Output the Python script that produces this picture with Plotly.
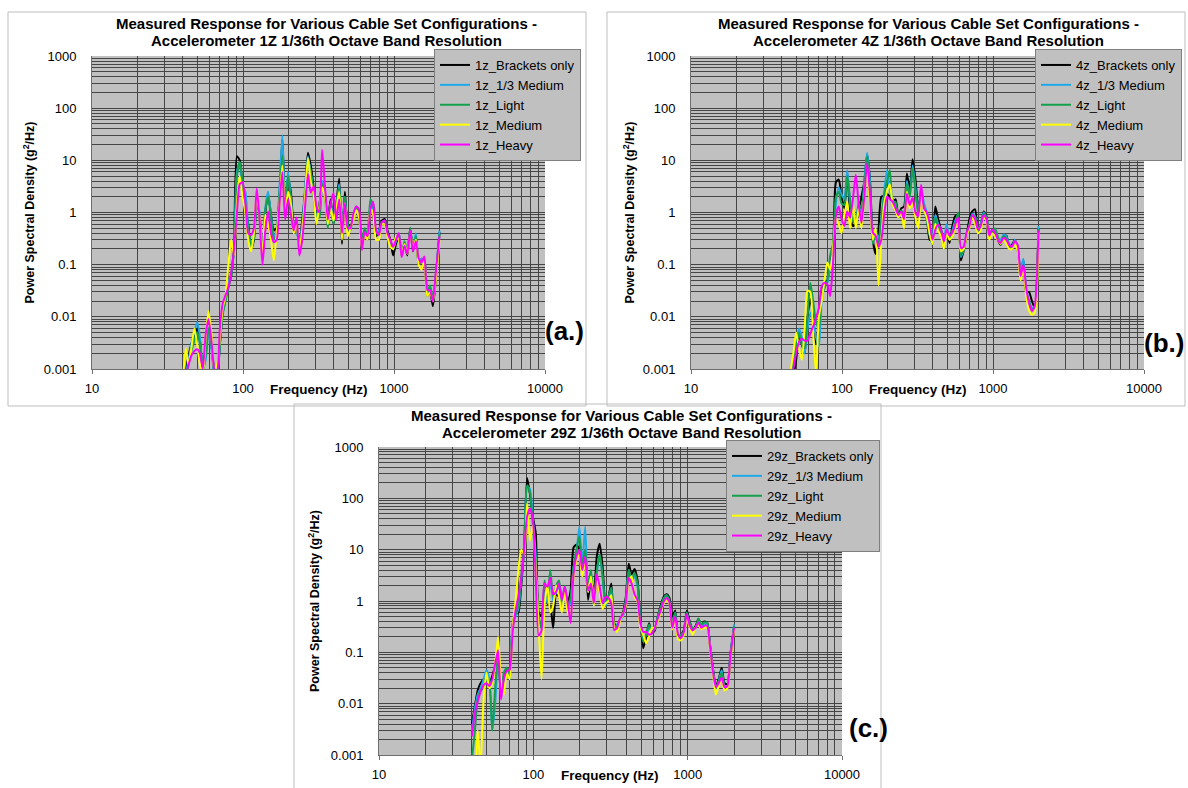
import plotly.graph_objects as go

W, H = 1188, 788

# 1/16-octave analysis frequencies (Hz), shared by every measurement
freq_hz = [
    40.0, 41.8, 43.6, 45.5, 47.6, 49.7, 51.9, 54.2, 56.6, 59.1,
    61.7, 64.4, 67.3, 70.3, 73.4, 76.6, 80.0, 83.5, 87.2, 91.1,
    95.1, 99.3, 103.7, 108.3, 113.1, 118.1, 123.4, 128.8, 134.5, 140.5,
    146.7, 153.2, 160.0, 167.1, 174.5, 182.2, 190.3, 198.7, 207.5, 216.7,
    226.3, 236.3, 246.8, 257.7, 269.1, 281.0, 293.5, 306.5, 320.0, 334.2,
    349.0, 364.5, 380.6, 397.5, 415.1, 433.4, 452.5, 472.7, 493.6, 515.4,
    538.2, 562.1, 587.0, 613.0, 640.0, 668.4, 698.0, 728.9, 761.1, 794.8,
    830.0, 866.8, 905.1, 945.2, 987.1, 1030.8, 1076.4, 1124.1, 1173.8, 1225.8,
    1280.0, 1336.7, 1395.9, 1457.7, 1522.2, 1589.6, 1660.0, 1733.5, 1810.2, 1890.4,
    2000.0,
]

config_names = ["Brackets only", "1/3 Medium", "Light", "Medium", "Heavy"]
config_colors = ["#000000", "#1fa9e8", "#14a04c", "#ffff00", "#ff00ff"]

# ---------------- Accelerometer 1Z (g^2/Hz) ----------------
psd_1z_brackets = [
    0.0005, 0.0009, 0.0018, 0.003, 0.0045, 0.006, 0.0035, 0.0009, 0.002, 0.006,
    0.003, 0.0009, 0.0006, 0.003, 0.012, 0.022, 0.04, 0.06, 0.25, 12.0,
    10.0, 3.0, 1.2, 0.6, 0.2, 0.3, 1.6, 0.9, 0.18, 1.0,
    2.3, 0.9, 0.45, 0.5, 2.0, 25.0, 1.4, 4.5, 2.5, 0.6,
    0.5, 0.25, 0.7, 2.5, 14.0, 8.0, 3.0, 0.9, 1.4, 3.5,
    2.2, 0.7, 1.8, 0.6, 1.4, 4.5, 0.25, 2.5, 0.6, 0.55,
    0.75, 1.1, 0.8, 0.3, 0.45, 0.3, 1.3, 0.9, 0.35, 0.45,
    0.7, 0.75, 0.45, 0.3, 0.15, 0.25, 0.35, 0.15, 0.25, 0.15,
    0.5, 0.18, 0.35, 0.1, 0.13, 0.12, 0.025, 0.03, 0.016, 0.05,
    0.42,
]
psd_1z_third_medium = [
    0.0004, 0.0008, 0.0015, 0.003, 0.005, 0.008, 0.004, 0.001, 0.0015, 0.005,
    0.0025, 0.0008, 0.0006, 0.0035, 0.014, 0.025, 0.045, 0.065, 0.22, 6.0,
    9.0, 3.2, 2.5, 0.5, 0.25, 0.35, 1.8, 1.0, 0.15, 1.2,
    2.5, 0.9, 0.35, 0.45, 3.0, 30.0, 1.2, 6.0, 2.0, 0.5,
    0.4, 0.3, 0.6, 3.0, 12.0, 6.0, 2.5, 0.8, 1.2, 4.0,
    2.5, 0.6, 1.5, 0.8, 1.2, 3.5, 0.4, 2.0, 0.55, 0.45,
    0.8, 1.2, 0.9, 0.25, 0.45, 0.32, 1.5, 1.0, 0.4, 0.45,
    0.65, 0.7, 0.4, 0.28, 0.2, 0.28, 0.4, 0.16, 0.25, 0.18,
    0.45, 0.2, 0.4, 0.12, 0.13, 0.12, 0.03, 0.035, 0.02, 0.06,
    0.45,
]
psd_1z_light = [
    0.0004, 0.0007, 0.0012, 0.0022, 0.0035, 0.005, 0.003, 0.0012, 0.0018, 0.006,
    0.003, 0.001, 0.0007, 0.003, 0.011, 0.02, 0.035, 0.06, 0.2, 5.0,
    9.5, 4.0, 1.5, 0.45, 0.22, 0.32, 2.0, 0.8, 0.14, 1.1,
    2.0, 0.8, 0.3, 0.4, 2.5, 12.0, 1.0, 5.0, 1.6, 0.45,
    0.45, 0.28, 0.55, 2.0, 9.0, 6.0, 2.0, 0.8, 0.8, 3.5,
    2.0, 0.5, 1.5, 0.6, 1.5, 3.0, 0.35, 2.0, 0.6, 0.5,
    0.8, 1.3, 0.9, 0.3, 0.5, 0.35, 1.8, 1.4, 0.4, 0.4,
    0.6, 0.65, 0.4, 0.3, 0.2, 0.3, 0.4, 0.15, 0.28, 0.17,
    0.5, 0.2, 0.35, 0.11, 0.12, 0.13, 0.03, 0.04, 0.022, 0.06,
    0.38,
]
psd_1z_medium = [
    0.0006, 0.0025, 0.0012, 0.0025, 0.006, 0.003, 0.0012, 0.0008, 0.004, 0.013,
    0.005, 0.001, 0.0012, 0.004, 0.015, 0.025, 0.1, 0.3, 0.15, 1.5,
    5.0, 2.0, 1.0, 0.3, 0.18, 0.4, 2.5, 0.8, 0.13, 0.9,
    0.6, 0.3, 0.12, 0.4, 1.5, 8.0, 0.9, 2.5, 1.5, 0.4,
    0.6, 0.2, 0.45, 2.0, 11.0, 4.0, 2.2, 0.6, 1.2, 3.0,
    2.0, 0.6, 1.2, 0.7, 1.2, 2.5, 0.3, 1.5, 0.35, 0.5,
    0.7, 1.1, 0.8, 0.2, 0.4, 0.3, 1.2, 0.9, 0.3, 0.3,
    0.6, 0.6, 0.35, 0.22, 0.2, 0.35, 0.3, 0.15, 0.25, 0.16,
    0.4, 0.2, 0.3, 0.1, 0.08, 0.12, 0.025, 0.03, 0.02, 0.05,
    0.3,
]
psd_1z_heavy = [
    0.0006, 0.0008, 0.0012, 0.0018, 0.0022, 0.0024, 0.002, 0.001, 0.0046, 0.009,
    0.0037, 0.001, 0.0007, 0.006, 0.018, 0.026, 0.037, 0.07, 0.2, 0.95,
    3.5, 3.8, 1.5, 0.4, 0.37, 0.5, 2.9, 0.73, 0.1, 0.45,
    1.05, 0.4, 0.27, 0.3, 1.5, 6.0, 0.73, 1.8, 0.95, 0.45,
    0.8, 0.15, 0.3, 1.3, 5.5, 2.4, 3.2, 1.3, 1.0, 16.0,
    3.2, 0.73, 1.5, 2.4, 0.73, 1.8, 0.4, 1.5, 0.5, 0.5,
    0.95, 1.3, 1.15, 0.19, 0.42, 0.35, 1.15, 1.6, 0.45, 0.37,
    0.65, 0.7, 0.4, 0.3, 0.22, 0.3, 0.4, 0.14, 0.23, 0.16,
    0.45, 0.18, 0.28, 0.13, 0.11, 0.144, 0.033, 0.032, 0.0197, 0.069,
    0.35,
]

# ---------------- Accelerometer 4Z (g^2/Hz) ----------------
psd_4z_brackets = [
    0.0002, 0.0003, 0.0005, 0.0008, 0.0008, 0.0015, 0.004, 0.003, 0.002, 0.01,
    0.022, 0.01, 0.003, 0.008, 0.03, 0.045, 0.05, 0.12, 0.2, 3.8,
    4.3, 2.0, 1.2, 6.0, 1.0, 0.55, 0.63, 1.0, 2.0, 3.8,
    13.0, 4.3, 0.3, 0.16, 0.47, 2.0, 2.1, 2.3, 2.0, 1.6,
    1.8, 0.85, 1.2, 1.3, 5.6, 2.7, 10.5, 4.3, 1.3, 2.0,
    1.3, 0.85, 0.3, 0.3, 1.3, 0.75, 0.47, 0.3, 0.45, 0.26,
    0.55, 0.85, 0.9, 0.12, 0.19, 0.36, 0.75, 1.05, 1.15, 0.41,
    0.55, 1.05, 0.85, 0.36, 0.41, 0.47, 0.3, 0.24, 0.36, 0.36,
    0.22, 0.24, 0.3, 0.19, 0.07, 0.12, 0.03, 0.03, 0.02, 0.015,
    0.5,
]
psd_4z_third_medium = [
    0.0002, 0.0003, 0.0004, 0.0007, 0.0012, 0.003, 0.006, 0.004, 0.002, 0.006,
    0.012, 0.008, 0.004, 0.0027, 0.02, 0.04, 0.045, 0.1, 0.15, 1.5,
    3.0, 2.2, 1.8, 6.5, 1.5, 0.8, 0.7, 1.3, 1.0, 4.0,
    14.0, 4.0, 0.3, 0.45, 0.3, 0.8, 2.5, 6.5, 2.5, 1.8,
    1.3, 0.9, 1.0, 1.0, 4.0, 2.0, 8.0, 3.0, 1.0, 3.0,
    1.5, 1.0, 0.5, 0.35, 0.9, 0.6, 0.45, 0.3, 0.6, 0.3,
    0.45, 0.7, 0.85, 0.14, 0.2, 0.4, 0.55, 0.95, 0.85, 0.45,
    0.6, 1.0, 0.8, 0.4, 0.45, 0.45, 0.32, 0.3, 0.38, 0.35,
    0.25, 0.22, 0.3, 0.2, 0.08, 0.13, 0.035, 0.02, 0.015, 0.016,
    0.55,
]
psd_4z_light = [
    0.0002, 0.0003, 0.0005, 0.0008, 0.0015, 0.0025, 0.005, 0.003, 0.0025, 0.01,
    0.045, 0.02, 0.008, 0.006, 0.025, 0.035, 0.05, 0.15, 0.25, 2.0,
    2.5, 1.5, 1.4, 5.0, 1.8, 0.7, 0.6, 1.5, 1.2, 3.0,
    12.0, 3.0, 0.25, 0.4, 0.25, 0.7, 2.2, 4.0, 6.5, 1.5,
    1.6, 0.8, 1.1, 0.9, 3.5, 2.0, 7.0, 2.5, 0.9, 2.5,
    1.2, 0.7, 0.35, 0.25, 0.8, 0.5, 0.4, 0.2, 0.45, 0.3,
    0.4, 0.6, 1.0, 0.15, 0.2, 0.35, 0.6, 0.9, 0.8, 0.5,
    0.5, 0.95, 0.8, 0.45, 0.4, 0.5, 0.35, 0.25, 0.35, 0.32,
    0.24, 0.2, 0.28, 0.22, 0.07, 0.1, 0.03, 0.02, 0.014, 0.015,
    0.48,
]
psd_4z_medium = [
    0.0002, 0.0003, 0.0006, 0.0009, 0.002, 0.005, 0.0025, 0.0015, 0.006, 0.032,
    0.03, 0.005, 0.0008, 0.01, 0.02, 0.05, 0.11, 0.08, 0.2, 0.8,
    0.6, 0.4, 0.9, 1.6, 0.5, 1.5, 0.5, 1.2, 0.5, 2.0,
    6.0, 1.5, 0.3, 0.5, 0.04, 0.3, 1.5, 2.5, 3.5, 1.4,
    1.1, 0.8, 1.0, 0.5, 2.5, 1.2, 1.5, 0.8, 0.5, 2.0,
    1.1, 0.8, 0.4, 0.25, 0.6, 0.45, 0.35, 0.2, 0.4, 0.3,
    0.35, 0.5, 0.7, 0.18, 0.2, 0.35, 0.5, 0.8, 0.6, 0.4,
    0.45, 0.8, 0.7, 0.3, 0.4, 0.35, 0.3, 0.25, 0.3, 0.25,
    0.2, 0.2, 0.25, 0.18, 0.05, 0.08, 0.025, 0.013, 0.011, 0.012,
    0.42,
]
psd_4z_heavy = [
    0.0002, 0.0003, 0.0004, 0.0006, 0.001, 0.002, 0.0033, 0.0038, 0.0035, 0.0035,
    0.0048, 0.0065, 0.0095, 0.015, 0.039, 0.045, 0.042, 0.025, 0.108, 0.85,
    1.3, 0.75, 0.55, 1.05, 0.8, 1.8, 5.3, 1.5, 0.63, 2.0,
    9.0, 2.3, 0.41, 0.36, 0.22, 0.3, 0.9, 2.0, 1.8, 1.6,
    1.2, 0.9, 1.05, 0.75, 2.3, 1.4, 1.9, 1.0, 0.85, 3.4,
    1.2, 1.0, 0.63, 0.3, 0.47, 0.58, 0.47, 0.28, 0.47, 0.36,
    0.41, 0.58, 0.8, 0.21, 0.22, 0.41, 0.55, 0.9, 0.75, 0.47,
    0.55, 0.9, 0.75, 0.36, 0.47, 0.41, 0.3, 0.26, 0.33, 0.3,
    0.24, 0.22, 0.28, 0.24, 0.06, 0.1, 0.035, 0.018, 0.013, 0.016,
    0.45,
]

# ---------------- Accelerometer 29Z (g^2/Hz) ----------------
psd_29z_brackets = [
    0.004, 0.009, 0.018, 0.025, 0.03, 0.032, 0.025, 0.035, 0.055, 0.075,
    0.02, 0.03, 0.05, 0.04, 0.35, 0.55, 0.6, 2.0, 12.0, 250.0,
    120.0, 44.0, 21.0, 0.6, 0.5, 1.6, 0.9, 0.8, 0.3, 1.35,
    1.2, 0.8, 1.6, 0.9, 1.6, 11.0, 12.5, 10.0, 4.0, 8.5,
    1.05, 2.8, 1.35, 7.4, 13.0, 4.7, 0.9, 1.2, 2.2, 0.37,
    0.3, 0.42, 0.58, 1.2, 5.3, 3.3, 4.2, 2.6, 0.42, 0.12,
    0.2, 0.37, 0.235, 0.27, 0.5, 0.8, 1.2, 1.35, 1.15, 0.5,
    0.65, 0.19, 0.22, 0.27, 0.65, 0.4, 0.28, 0.32, 0.45, 0.33,
    0.4, 0.38, 0.14, 0.05, 0.022, 0.03, 0.05, 0.025, 0.024, 0.09,
    0.32,
]
psd_29z_third_medium = [
    0.003, 0.008, 0.015, 0.02, 0.03, 0.045, 0.03, 0.003, 0.01, 0.08,
    0.015, 0.03, 0.04, 0.03, 0.35, 0.5, 0.7, 2.5, 10.0, 170.0,
    150.0, 40.0, 8.0, 0.4, 0.35, 1.5, 0.9, 2.5, 1.0, 1.5,
    1.8, 0.8, 1.8, 0.7, 1.0, 4.5, 9.0, 28.0, 5.0, 28.0,
    1.5, 3.0, 0.8, 3.5, 8.0, 3.0, 0.8, 1.1, 1.8, 0.3,
    0.35, 0.4, 0.5, 1.0, 4.0, 2.5, 3.0, 2.0, 0.4, 0.18,
    0.22, 0.3, 0.3, 0.3, 0.5, 0.7, 1.1, 1.3, 1.0, 0.35,
    0.6, 0.2, 0.22, 0.25, 0.6, 0.35, 0.3, 0.3, 0.4, 0.32,
    0.35, 0.35, 0.14, 0.045, 0.02, 0.028, 0.045, 0.022, 0.022, 0.09,
    0.35,
]
psd_29z_light = [
    0.0008, 0.003, 0.012, 0.018, 0.02, 0.03, 0.025, 0.003, 0.02, 0.09,
    0.018, 0.04, 0.05, 0.035, 0.3, 0.55, 0.8, 3.0, 12.0, 180.0,
    130.0, 30.0, 6.0, 0.5, 0.3, 2.5, 1.2, 4.0, 1.2, 2.0,
    2.5, 1.0, 2.0, 0.8, 1.2, 4.5, 10.0, 18.0, 5.0, 10.0,
    2.0, 4.0, 1.0, 4.0, 8.0, 3.0, 1.0, 1.2, 1.8, 0.32,
    0.32, 0.45, 0.55, 1.0, 4.0, 2.6, 3.5, 2.2, 0.4, 0.16,
    0.22, 0.35, 0.25, 0.28, 0.5, 0.75, 1.1, 1.3, 1.0, 0.35,
    0.6, 0.2, 0.22, 0.25, 0.6, 0.38, 0.3, 0.3, 0.45, 0.35,
    0.38, 0.38, 0.13, 0.045, 0.02, 0.027, 0.04, 0.022, 0.021, 0.08,
    0.32,
]
psd_29z_medium = [
    0.0005, 0.0004, 0.003, 0.0006, 0.012, 0.04, 0.02, 0.025, 0.06, 0.2,
    0.03, 0.015, 0.04, 0.03, 0.3, 1.0, 4.0, 10.0, 8.0, 80.0,
    15.0, 30.0, 4.0, 0.3, 0.03, 0.8, 2.0, 0.6, 0.8, 2.0,
    1.2, 0.6, 1.5, 0.6, 0.5, 3.0, 6.0, 8.0, 3.0, 6.0,
    1.5, 3.0, 0.8, 2.5, 1.5, 0.7, 0.9, 1.0, 1.3, 0.3,
    0.25, 0.4, 0.55, 0.8, 2.5, 3.0, 1.2, 1.0, 0.3, 0.22,
    0.15, 0.2, 0.3, 0.3, 0.4, 0.6, 0.9, 1.0, 0.9, 0.28,
    0.45, 0.18, 0.17, 0.22, 0.45, 0.3, 0.22, 0.3, 0.35, 0.28,
    0.3, 0.3, 0.12, 0.04, 0.015, 0.022, 0.03, 0.018, 0.02, 0.07,
    0.28,
]
psd_29z_heavy = [
    0.0023, 0.0065, 0.011, 0.017, 0.023, 0.025, 0.022, 0.03, 0.06, 0.11,
    0.012, 0.03, 0.043, 0.046, 0.25, 0.65, 1.2, 2.8, 10.0, 44.0,
    63.0, 39.0, 2.8, 0.21, 0.27, 2.2, 1.9, 2.8, 1.35, 1.5,
    2.2, 1.05, 1.9, 0.9, 0.37, 3.3, 7.4, 10.0, 4.0, 7.4,
    1.6, 2.2, 0.9, 3.3, 1.9, 0.9, 1.2, 1.15, 0.9, 0.27,
    0.3, 0.45, 0.55, 0.9, 2.8, 2.2, 1.35, 1.05, 0.37, 0.25,
    0.25, 0.22, 0.235, 0.3, 0.45, 0.65, 0.95, 1.15, 0.95, 0.3,
    0.5, 0.22, 0.19, 0.25, 0.55, 0.33, 0.27, 0.3, 0.38, 0.3,
    0.33, 0.33, 0.13, 0.042, 0.021, 0.025, 0.032, 0.021, 0.022, 0.08,
    0.3,
]

x_tick_vals = [10, 100, 1000, 10000]
x_tick_labels = ["10", "100", "1000", "10000"]
y_tick_vals = [0.001, 0.01, 0.1, 1, 10, 100, 1000]
y_tick_labels = ["0.001", "0.01", "0.1", "1", "10", "100", "1000"]

FONT = "Liberation Sans, Arial, sans-serif"


def fx(px):
    return px / W


def fy(py):
    return 1 - py / H


# Panel geometry in pixels: plot box, frame, and text anchors
panels = [
    dict(tag="1z", accel="1Z", label="(a.)",
         series=[psd_1z_brackets, psd_1z_third_medium, psd_1z_light, psd_1z_medium, psd_1z_heavy],
         plot=(92, 545, 56, 369), frame=(8, 586, 12, 406),
         title_x=326, title_y=(23.5, 40), ytitle_x=28, xtitle_y=389,
         label_xy=(564, 331), legend_xy=(581, 49)),
    dict(tag="4z", accel="4Z", label="(b.)",
         series=[psd_4z_brackets, psd_4z_third_medium, psd_4z_light, psd_4z_medium, psd_4z_heavy],
         plot=(691, 1144, 56, 369), frame=(607, 1185, 12, 406),
         title_x=928, title_y=(23.5, 40), ytitle_x=628, xtitle_y=389,
         label_xy=(1164, 343), legend_xy=(1182, 49)),
    dict(tag="29z", accel="29Z", label="(c.)",
         series=[psd_29z_brackets, psd_29z_third_medium, psd_29z_light, psd_29z_medium, psd_29z_heavy],
         plot=(379, 842, 447, 755), frame=(294, 881, 404, 792),
         title_x=621, title_y=(415.5, 432), ytitle_x=314, xtitle_y=775,
         label_xy=(868, 728), legend_xy=(880, 440)),
]

for p in panels:
    for s in p["series"]:
        if len(s) != len(freq_hz):
            raise ValueError(f"{p['tag']} series length {len(s)} != {len(freq_hz)}")

# minor gridlines at 2..9 x 10^n inside each decade
x_minor = [m * 10 ** d for d in range(1, 4) for m in range(2, 10)]
y_minor = [m * 10.0 ** d for d in range(-3, 3) for m in range(2, 10)]

GRID = "#454545"

fig = go.Figure()
layout = dict(
    width=W, height=H,
    margin=dict(l=0, r=0, t=0, b=0, autoexpand=False),
    paper_bgcolor="white",
    plot_bgcolor="#c0c0c0",
    font=dict(family=FONT, size=13, color="#000000"),
    showlegend=True,
)
shapes, annotations = [], []

for i, p in enumerate(panels):
    n = "" if i == 0 else str(i + 1)
    legend_key = "legend" + n
    x0, x1, y0, y1 = p["plot"]
    for name, color, values in zip(config_names, config_colors, p["series"]):
        fig.add_trace(go.Scatter(
            x=freq_hz, y=values, mode="lines",
            name=f"{p['tag']}_{name}",
            line=dict(color=color, width=2, shape="spline", smoothing=0.6),
            xaxis="x" + n, yaxis="y" + n, legend=legend_key,
        ))

    axis_common = dict(
        type="log", showgrid=True, gridcolor=GRID, gridwidth=1,
        zeroline=False, showline=True, linecolor="#6e6e6e", automargin=False,
        tickfont=dict(family=FONT, size=13, color="#000000"), fixedrange=True,
    )
    layout["xaxis" + n] = dict(
        axis_common, domain=[fx(x0), fx(x1)], range=[1, 4],
        tickmode="array", tickvals=x_tick_vals, ticktext=x_tick_labels,
        ticks="outside", ticklen=4, tickcolor="#6e6e6e",
        minor=dict(tickmode="array", tickvals=x_minor, showgrid=True,
                   gridcolor=GRID, gridwidth=1, ticks=""),
        anchor="y" + n, ticklabelstandoff=3,
    )
    layout["yaxis" + n] = dict(
        axis_common, domain=[fy(y1), fy(y0)], range=[-3, 3],
        tickmode="array", tickvals=y_tick_vals, ticktext=y_tick_labels, ticks="",
        minor=dict(tickmode="array", tickvals=y_minor, showgrid=True,
                   gridcolor=GRID, gridwidth=1, ticks=""),
        anchor="x" + n, ticklabelstandoff=12,
    )
    lx, ly = p["legend_xy"]
    layout[legend_key] = dict(
        x=fx(lx), y=fy(ly), xanchor="right", yanchor="top",
        bgcolor="#c0c0c0", bordercolor="#7f7f7f", borderwidth=1,
        font=dict(family=FONT, size=13, color="#000000"),
        tracegroupgap=0, itemwidth=30,
    )

    fx0, fx1, fy0, fy1 = p["frame"]
    shapes.append(dict(type="rect", xref="paper", yref="paper",
                       x0=fx(fx0), x1=fx(fx1), y0=fy(fy1), y1=fy(fy0),
                       line=dict(color="#bdbdbd", width=1), fillcolor="rgba(0,0,0,0)"))

    title_lines = [
        "Measured Response for Various Cable Set Configurations -",
        f"Accelerometer {p['accel']} 1/36th Octave Band Resolution",
    ]
    for line, ty in zip(title_lines, p["title_y"]):
        annotations.append(dict(
            text=f"<b>{line}</b>",
            x=fx(p["title_x"]), y=fy(ty), xref="paper", yref="paper", showarrow=False,
            xanchor="center", yanchor="middle",
            font=dict(family=FONT, size=15, color="#000000"),
        ))
    annotations.append(dict(
        text="<b>Power Spectral Density (g<sup>2</sup>/Hz)</b>",
        x=fx(p["ytitle_x"]), y=fy((y0 + y1) / 2), xref="paper", yref="paper",
        showarrow=False, textangle=-90, xanchor="center", yanchor="middle",
        font=dict(family=FONT, size=12.5, color="#000000"),
    ))
    annotations.append(dict(
        text="<b>Frequency (Hz)</b>",
        x=fx((x0 + x1) / 2), y=fy(p["xtitle_y"]), xref="paper", yref="paper",
        showarrow=False, xanchor="center", yanchor="middle",
        font=dict(family=FONT, size=13.5, color="#000000"),
    ))
    lbx, lby = p["label_xy"]
    annotations.append(dict(
        text=f"<b>{p['label']}</b>",
        x=fx(lbx), y=fy(lby), xref="paper", yref="paper", showarrow=False,
        xanchor="center", yanchor="middle",
        font=dict(family=FONT, size=26, color="#000000"),
    ))

layout["shapes"] = shapes
layout["annotations"] = annotations
fig.update_layout(**layout)

fig.write_html("out.html")
